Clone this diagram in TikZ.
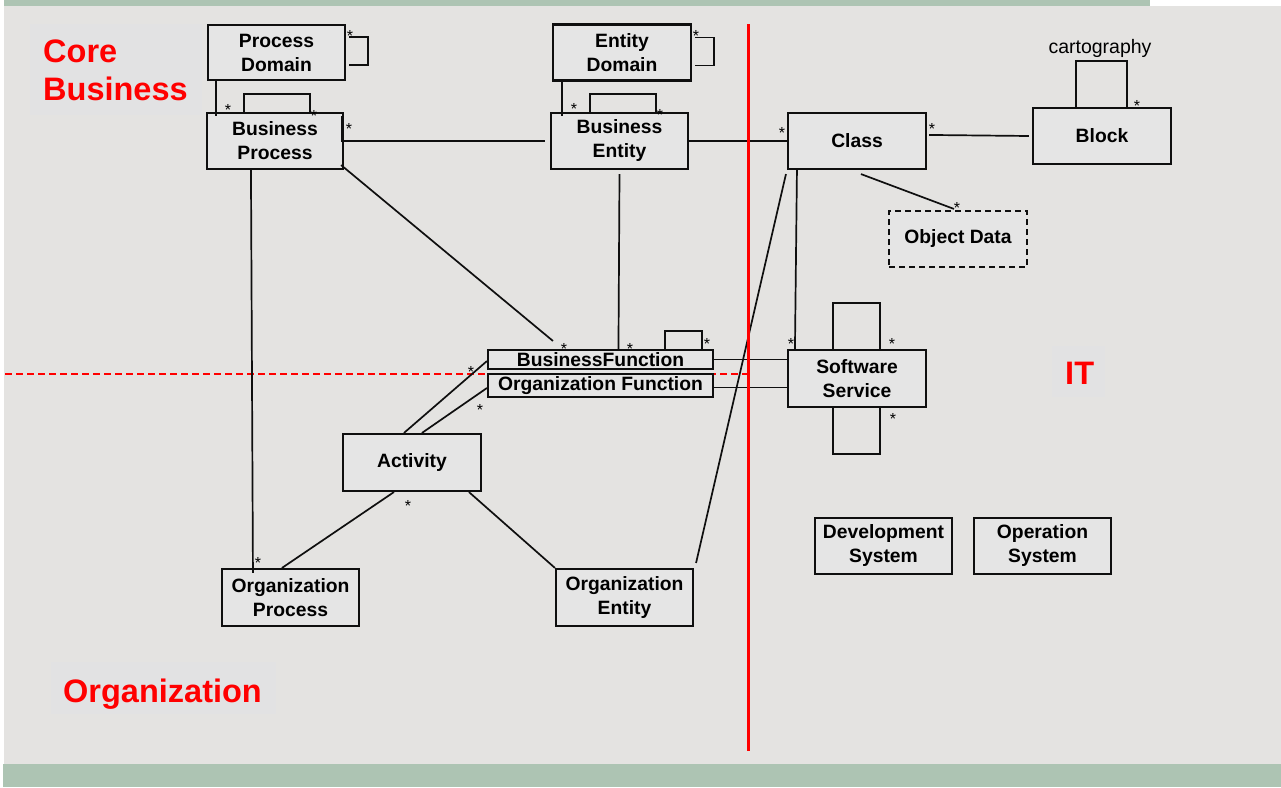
\documentclass[tikz,border=0pt]{standalone}
\usepackage{fontspec}
\setmainfont{Liberation Sans}
\usetikzlibrary{calc}
\definecolor{pagegray}{RGB}{228,227,225}
\definecolor{boxgray}{RGB}{229,229,229}
\definecolor{labelgray}{RGB}{226,226,227}
\definecolor{bandgreen}{RGB}{173,196,179}
\definecolor{inkline}{RGB}{15,15,15}
\tikzset{
  umlbox/.style={draw=inkline, line width=2.1pt, fill=boxgray,
    align=center, inner sep=0pt, font=\bfseries\fontsize{19.3}{24}\selectfont},
  thinbox/.style={umlbox, inner sep=0pt},
  link/.style={draw=inkline, line width=1.7pt},
  mult/.style={font=\fontsize{16}{16}\selectfont, inner sep=0pt},
  zonelabel/.style={text=red, font=\bfseries\fontsize{32.5}{38}\selectfont, inner sep=0pt},
}
\begin{document}
\begin{tikzpicture}[x=1pt, y=-1pt]
\useasboundingbox (0,0) rectangle (1281,787);
% page background and bands
\fill[white] (0,0) rectangle (1281,787);
\fill[pagegray] (4,6) rectangle (1281,764);
\fill[bandgreen] (4,0) rectangle (1150,6);
\fill[bandgreen] (3,764) rectangle (1281,787);

% zone labels
\fill[labelgray] (30,24) rectangle (202,115);
\node[zonelabel, align=left, anchor=north west] (lcore) at (43,39.8) {Core\\Business};
\fill[labelgray] (51,662) rectangle (276,714);
\node[zonelabel, anchor=base west] (lorg) at (63,702) {Organization};
\fill[labelgray] (1052,346) rectangle (1105,397);
\node[zonelabel, anchor=base west] (lit) at (1065,384) {IT};

% zone boundaries
\draw[red, line width=1.5pt, dash pattern=on 7pt off 4pt] (5,374) -- (748,374);

% classes
\fill[boxgray] (488,350) rectangle (713,397);
\node[umlbox, minimum width=137pt, minimum height=55pt] (pd) at (276.5,52.5) {Process\\Domain};
\node[umlbox, minimum width=136pt, minimum height=56pt] (bp) at (275,141) {Business\\Process};
\node[umlbox, minimum width=138pt, minimum height=56pt] (ed) at (622,52.5) {Entity\\Domain};
\node[umlbox, minimum width=137pt, minimum height=56pt] (be) at (619.5,141) {Business\\Entity};
\node[umlbox, minimum width=138pt, minimum height=56pt] (cls) at (857,141) {Class};
\node[umlbox, minimum width=138pt, minimum height=56pt] (blk) at (1102,136) {Block};
\node[umlbox, dashed, dash pattern=on 6pt off 4pt, minimum width=138pt, minimum height=56pt] (od) at (958,239) {Object Data};
\node[thinbox, minimum width=225pt, minimum height=19pt] (bf) at (600.5,359.5) {BusinessFunction};
\node[thinbox, minimum width=225pt, minimum height=23pt] (of) at (600.5,385.5) {Organization Function};
\node[umlbox, minimum width=138pt, minimum height=57pt] (ss) at (857,378.5) {Software\\Service};
\node[umlbox, minimum width=138pt, minimum height=57pt] (act) at (412,462.5) {Activity};
\node[umlbox, minimum width=137pt, minimum height=57pt] (op) at (290.5,597.5) {Organization\\Process};
\node[umlbox, minimum width=137pt, minimum height=57pt] (oe) at (624.5,597.5) {Organization\\Entity};
\node[umlbox, minimum width=137pt, minimum height=56pt] (dev) at (883.5,546) {Development\\System};
\node[umlbox, minimum width=137pt, minimum height=56pt] (ops) at (1042.5,546) {Operation\\System};

% associations
\draw[link] ($(pd.north east)+(3,13)$) -- ++(19,0) -- ++(0,28) -- ++(-19,0);
\draw[link] ($(pd.south west)+(9,0)$) -- ($(bp.north west)+(10,4)$);
\draw[link] ($(bp.north west)+(38,0)$) -- ++(0,-18) -- ++(66,0) -- ++(0,18);
\draw[link] ($(bp.north east)+(-2,4)$) |- ($(be.west)+(-5,0)$);
\draw[link] ($(bp.south east)+(-3,-5)$) -- ($(bf.north west)+(66,-8)$);
\draw[link] ($(bp.south west)+(45,0)$) -- ($(op.north west)+(32,5)$);
\draw[link] ($(ed.south west)+(10,0)$) -- ($(be.north west)+(12,4)$);
\draw[link] ($(ed.north east)+(3,14)$) -- ++(19,0) -- ++(0,28) -- ++(-19,0);
\draw[link] ($(be.north west)+(40,0)$) -- ++(0,-18) -- ++(66,0) -- ++(0,18);
\draw[link] (be.east) -- (cls.west);
\draw[link] ($(be.south)+(0,4)$) -- ($(bf.north west)+(131.5,0)$);
\draw[link] ($(bf.north west)+(178,0)$) -- ++(0,-18) -- ++(37,0) -- ++(0,18);
\draw[link] (bf.east) -- (bf.east -| ss.west);
\draw[link] ($(of.east)+(0,2)$) -- ($(of.east -| ss.west)+(0,2)$);
\draw[link] ($(cls.south west)+(10,0)$) -- ($(ss.north west)+(8,0)$);
\draw[link] ($(cls.south west)+(-1,4)$) -- ($(oe.north east)+(2,-5)$);
\draw[link] ($(cls.south west)+(74,4)$) -- ($(od.north west)+(66,-1)$);
\draw[link] ($(cls.north east)+(2,23)$) -- ($(blk.west)+(-3,0)$);
\draw[link] ($(blk.north west)+(44,0)$) -- ++(0,-46) -- ++(51,0) -- ++(0,46);
\draw[link] ($(ss.north west)+(46,0)$) -- ++(0,-46) -- ++(47,0) -- ++(0,46);
\draw[link] ($(ss.south west)+(46,0)$) -- ++(0,46) -- ++(47,0) -- ++(0,-46);
\draw[link] ($(act.north west)+(62,0)$) -- ($(bf.south west)+(0,-9)$);
\draw[link] ($(act.north west)+(80,0)$) -- ($(of.west)+(0,2.5)$);
\draw[link] ($(act.south west)+(52,0)$) -- ($(op.north west)+(61,0)$);
\draw[link] ($(act.south west)+(127,0)$) -- (oe.north west);

% role name of the Block self-association
\node[font=\fontsize{19.5}{20}\selectfont, anchor=base, inner sep=0pt] (carto) at (1100,53) {cartography};

% multiplicities
\node[mult] (m1) at (350,36) {*};
\node[mult] (m2) at (228,110) {*};
\node[mult] (m3) at (314,116) {*};
\node[mult] (m4) at (349,129) {*};
\node[mult] (m5) at (564,349) {*};
\node[mult] (m6) at (258,563) {*};
\node[mult] (m7) at (574,109) {*};
\node[mult] (m8) at (696,36) {*};
\node[mult] (m9) at (660,115) {*};
\node[mult] (m10) at (782,133) {*};
\node[mult] (m11) at (630,349) {*};
\node[mult] (m12) at (707,344) {*};
\node[mult] (m13) at (791,344) {*};
\node[mult] (m14) at (957,208) {*};
\node[mult] (m15) at (932,129) {*};
\node[mult] (m16) at (1137,106) {*};
\node[mult] (m17) at (892,344) {*};
\node[mult] (m18) at (893,419) {*};
\node[mult] (m19) at (471,372) {*};
\node[mult] (m20) at (480,410) {*};
\node[mult] (m21) at (408,506) {*};

% boundary between business and IT
\draw[red, line width=3pt] (748.5,24) -- (748.5,751);
\end{tikzpicture}
\end{document}
